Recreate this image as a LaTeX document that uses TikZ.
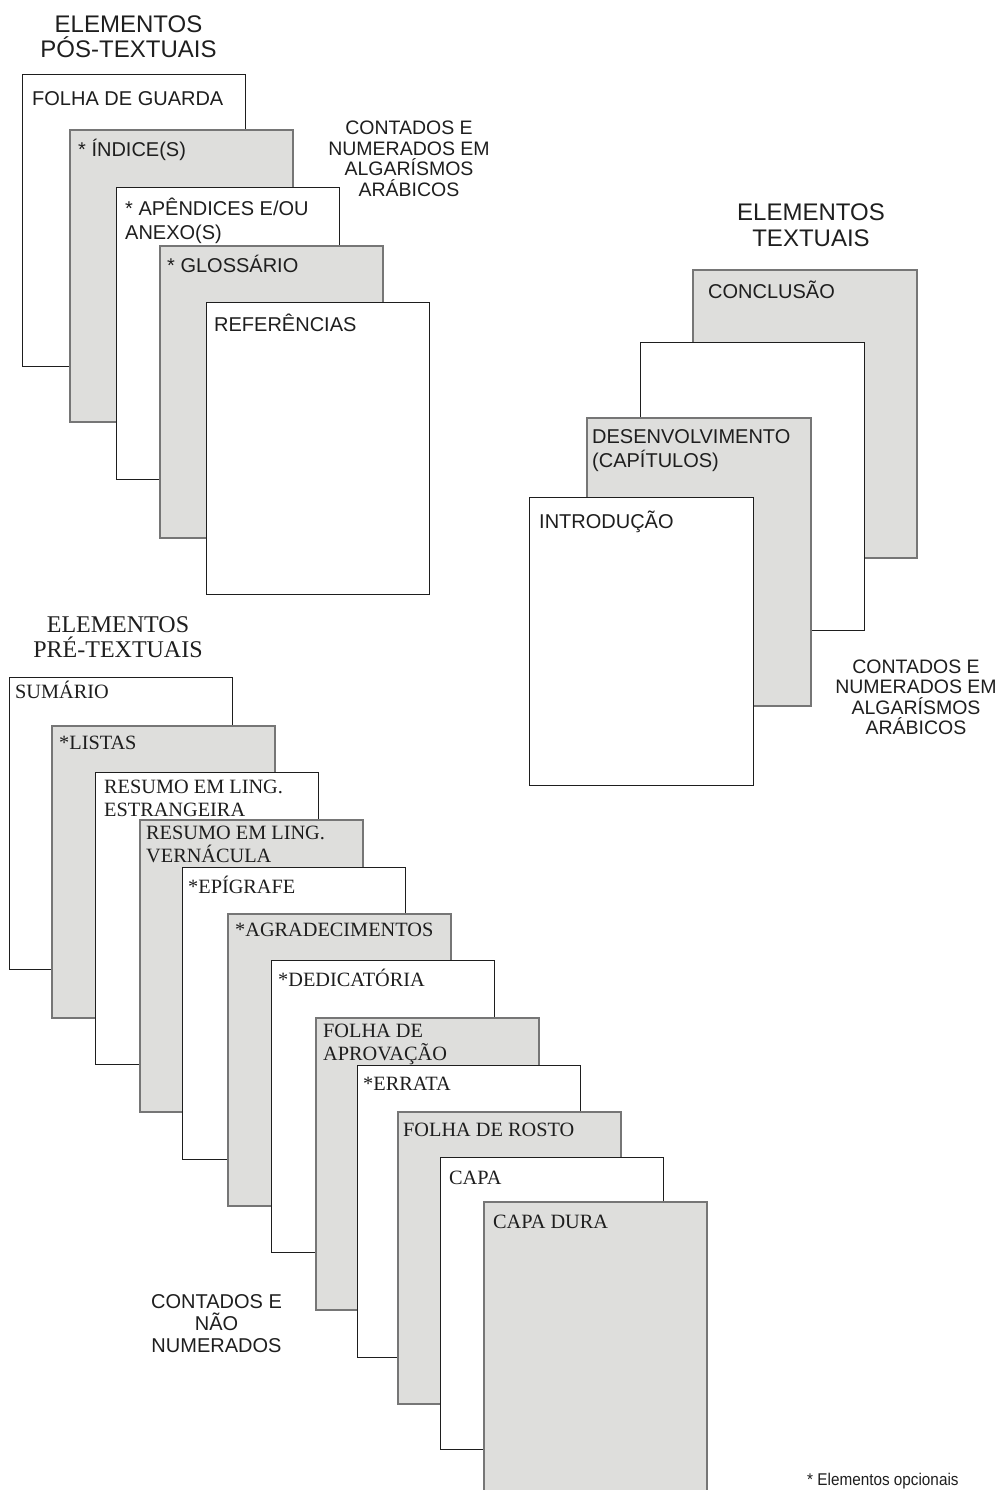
\documentclass[tikz,border=0pt]{standalone}
\usepackage{fontspec}
\setmainfont{Liberation Serif}
\newfontfamily\sansf{Liberation Sans}
\newfontfamily\narrowf[FakeStretch=0.9]{Liberation Sans}
\usetikzlibrary{positioning}

\definecolor{folhacinza}{RGB}{222,222,220}
\definecolor{bordacinza}{RGB}{118,118,118}
\definecolor{tinta}{RGB}{30,30,30}

\tikzset{
  folha/.style={draw=tinta, line width=1pt, fill=white, anchor=north west,
    inner sep=0pt, minimum width=223pt, minimum height=292pt},
  folhacz/.style={folha, fill=folhacinza, draw=bordacinza, line width=1.6pt},
  rotulo/.style={anchor=base west, inner sep=0pt, text=tinta, align=left,
    font=\fontsize{20.3}{22.5}\selectfont},
  rotulosans/.style={rotulo, font=\sansf\fontsize{20}{23.5}\selectfont},
  titulo/.style={anchor=base, inner sep=0pt, text=tinta, align=center,
    font=\sansf\fontsize{24}{25.5}\selectfont},
  nota/.style={anchor=base, inner sep=0pt, text=tinta, align=center,
    font=\sansf\fontsize{19.5}{20.5}\selectfont}
}

\begin{document}
\begin{tikzpicture}[x=1pt, y=-1pt]
    \useasboundingbox (0,0) rectangle (1000,1490);

    % Elementos pós-textuais
    \node[titulo] (tpos) at (128.5,58) {ELEMENTOS\\PÓS-TEXTUAIS};
    \node[folha]   (guarda)      at (22,74)  {};
    \node[folhacz] (indice)      at (69,129) {};
    \node[folha]   (apendices)   at (116,187) {};
    \node[folhacz] (glossario)   at (159,245) {};
    \node[folha]   (referencias) at (206,302) {};
    \node[rotulosans] (guardat) at ([shift={(10,32)}]guarda.north west) {FOLHA DE GUARDA};
    \node[rotulosans] (indicet) at ([shift={(9,28)}]indice.north west) {* ÍNDICE(S)};
    \node[rotulosans] (apendicest) at ([shift={(9,52)}]apendices.north west) {* APÊNDICES E/OU\\ANEXO(S)};
    \node[rotulosans] (glossariot) at ([shift={(8,27)}]glossario.north west) {* GLOSSÁRIO};
    \node[rotulosans] (referenciast) at ([shift={(8,29)}]referencias.north west) {REFERÊNCIAS};
    \node[nota] (npos) at (409,196.5) {CONTADOS E\\NUMERADOS EM\\ALGARÍSMOS\\ARÁBICOS};

    % Elementos textuais
    \node[titulo] (ttex) at (811,246) {ELEMENTOS\\TEXTUAIS};
    \node[folhacz, minimum width=224pt, minimum height=288pt] (conclusao)       at (692,269) {};
    \node[folha,   minimum width=224pt, minimum height=288pt] (branca)          at (640,342) {};
    \node[folhacz, minimum width=224pt, minimum height=288pt] (desenvolvimento) at (586,417) {};
    \node[folha,   minimum width=224pt, minimum height=288pt] (introducao)      at (529,497) {};
    \node[rotulosans] (conclusaot) at ([shift={(16,29)}]conclusao.north west) {CONCLUSÃO};
    \node[rotulosans] (desenvolvimentot) at ([shift={(6,50)}]desenvolvimento.north west) {DESENVOLVIMENTO\\(CAPÍTULOS)};
    \node[rotulosans] (introducaot) at ([shift={(10,31)}]introducao.north west) {INTRODUÇÃO};
    \node[nota] (ntex) at (916,734.5) {CONTADOS E\\NUMERADOS EM\\ALGARÍSMOS\\ARÁBICOS};

    % Elementos pré-textuais
    \node[titulo, font=\fontsize{24}{25}\selectfont] (tpre) at (118,657) {ELEMENTOS\\PRÉ-TEXTUAIS};
    \node[folha]   (sumario)        at (9,677)   {};
    \node[folhacz] (listas)         at (51,725)  {};
    \node[folha]   (estrangeira)    at (95,772)  {};
    \node[folhacz] (vernacula)      at (139,819) {};
    \node[folha]   (epigrafe)       at (182,867) {};
    \node[folhacz] (agradecimentos) at (227,913) {};
    \node[folha]   (dedicatoria)    at (271,960) {};
    \node[folhacz] (aprovacao)      at (315,1017) {};
    \node[folha]   (errata)         at (357,1065) {};
    \node[folhacz] (rosto)          at (397,1111) {};
    \node[folha]   (capa)           at (440,1157) {};
    \node[folhacz] (capadura)       at (483,1201) {};
    \node[rotulo] (sumariot) at ([shift={(6,21)}]sumario.north west) {SUMÁRIO};
    \node[rotulo] (listast) at ([shift={(8,24)}]listas.north west) {*LISTAS};
    \node[rotulo] (estrangeirat) at ([shift={(9,44)}]estrangeira.north west) {RESUMO EM LING.\\ESTRANGEIRA};
    \node[rotulo] (vernaculat) at ([shift={(7,43)}]vernacula.north west) {RESUMO EM LING.\\VERNÁCULA};
    \node[rotulo] (epigrafet) at ([shift={(6,26)}]epigrafe.north west) {*EPÍGRAFE};
    \node[rotulo] (agradecimentost) at ([shift={(8,23)}]agradecimentos.north west) {*AGRADECIMENTOS};
    \node[rotulo] (dedicatoriat) at ([shift={(7,26)}]dedicatoria.north west) {*DEDICATÓRIA};
    \node[rotulo] (aprovacaot) at ([shift={(8,43)}]aprovacao.north west) {FOLHA DE\\APROVAÇÃO};
    \node[rotulo] (erratat) at ([shift={(6,25)}]errata.north west) {*ERRATA};
    \node[rotulo] (rostot) at ([shift={(6,25)}]rosto.north west) {FOLHA DE ROSTO};
    \node[rotulo] (capat) at ([shift={(9,27)}]capa.north west) {CAPA};
    \node[rotulo] (capadurat) at ([shift={(10,27)}]capadura.north west) {CAPA DURA};
    \node[nota, font=\sansf\fontsize{20}{22}\selectfont] (npre) at (216.5,1352) {CONTADOS E\\NÃO\\NUMERADOS};

    % Nota de rodapé
    \node[anchor=base west, inner sep=0pt, text=tinta, font=\narrowf\fontsize{17}{19}\selectfont] (rodape) at (807,1485) {* Elementos opcionais};
\end{tikzpicture}
\end{document}
